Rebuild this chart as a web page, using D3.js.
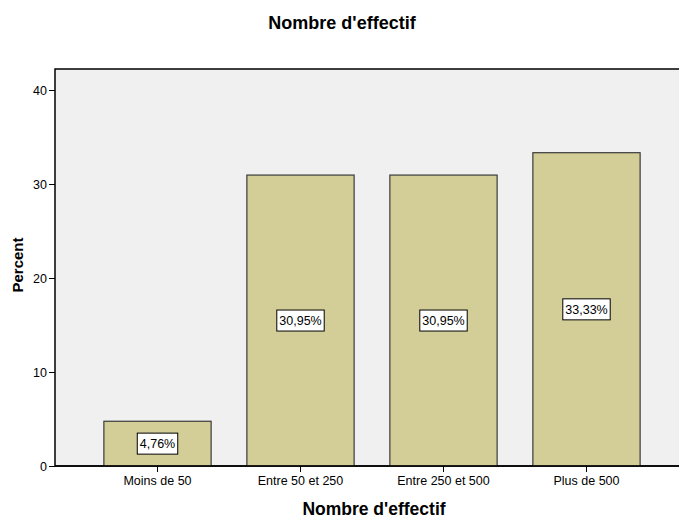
<!DOCTYPE html>
<html><head><meta charset="utf-8">
<script src="https://cdn.jsdelivr.net/npm/d3@7/dist/d3.min.js"></script>
<style>body{margin:0;background:#fff}svg{display:block;font-family:"Liberation Sans",Arial,sans-serif}</style>
</head><body>
<script>
const categories = ["Moins de 50","Entre 50 et 250","Entre 250 et 500","Plus de 500"];
const values = [4.76, 30.95, 30.95, 33.33];
const labels = ["4,76%","30,95%","30,95%","33,33%"];
const yTicks = [0,10,20,30,40];

(function(){
const W=679,H=518;
const svg=d3.select("body").append("svg").attr("width",W).attr("height",H);
const pLeft=55, pTop=69, pBottom=466, pRight=700;
const y=d3.scaleLinear().domain([0,40]).range([pBottom,90]);
const x=d3.scaleBand().domain(categories).range([86,658]).paddingInner(0.25).paddingOuter(0.125);

svg.append("rect").attr("x",pLeft).attr("y",pTop).attr("width",pRight-pLeft).attr("height",pBottom-pTop)
  .attr("fill","#f0f0f0").attr("stroke","#000").attr("stroke-width",1.5);

svg.selectAll("rect.bar").data(values).enter().append("rect").attr("class","bar")
  .attr("x",(d,i)=>x(categories[i])).attr("width",x.bandwidth())
  .attr("y",d=>y(d)).attr("height",d=>y(0)-y(d))
  .attr("fill","#d3ce98").attr("stroke","#3a3a3a").attr("stroke-width",1.2);

const ya=svg.append("g").attr("transform",`translate(${pLeft},0)`)
  .call(d3.axisLeft(y).tickValues(yTicks).tickSize(6).tickPadding(2).tickFormat(d3.format("d")));
ya.select(".domain").remove();
ya.selectAll("line").attr("stroke","#000");
ya.selectAll("text").attr("font-size",12.5).attr("fill","#000").attr("font-family","Liberation Sans, Arial");

const xa=svg.append("g").attr("transform",`translate(0,${pBottom})`)
  .call(d3.axisBottom(x).tickSize(6).tickPadding(4));
xa.select(".domain").remove();
xa.selectAll("line").attr("stroke","#000");
xa.selectAll("text").attr("font-size",12.5).attr("fill","#000").attr("font-family","Liberation Sans, Arial");

svg.append("line").attr("x1",pLeft).attr("x2",pRight).attr("y1",pBottom).attr("y2",pBottom).attr("stroke","#000").attr("stroke-width",1.5);

const lg=svg.selectAll("g.lbl").data(values).enter().append("g").attr("class","lbl")
  .attr("transform",(d,i)=>`translate(${x(categories[i])+x.bandwidth()/2},${(y(d)+y(0))/2})`);
lg.each(function(d,i){
  const g=d3.select(this);
  const t=g.append("text").text(labels[i]).attr("text-anchor","middle").attr("dy","0.36em")
    .attr("font-size",12.5).attr("fill","#000");
  const bb=t.node().getBBox();
  g.insert("rect","text").attr("x",bb.x-2.5).attr("y",-10.5).attr("width",bb.width+5).attr("height",21)
    .attr("fill","#fff").attr("stroke","#000").attr("stroke-width",1);
});

svg.append("text").text("Nombre d'effectif").attr("x",342).attr("y",29).attr("text-anchor","middle")
  .attr("font-size",18).attr("font-weight","bold");
svg.append("text").text("Nombre d'effectif").attr("x",374).attr("y",515).attr("text-anchor","middle")
  .attr("font-size",17.5).attr("font-weight","bold");
svg.append("text").text("Percent").attr("transform","translate(23,265) rotate(-90)").attr("text-anchor","middle")
  .attr("font-size",15).attr("font-weight","bold");
})();
</script>
</body></html>
